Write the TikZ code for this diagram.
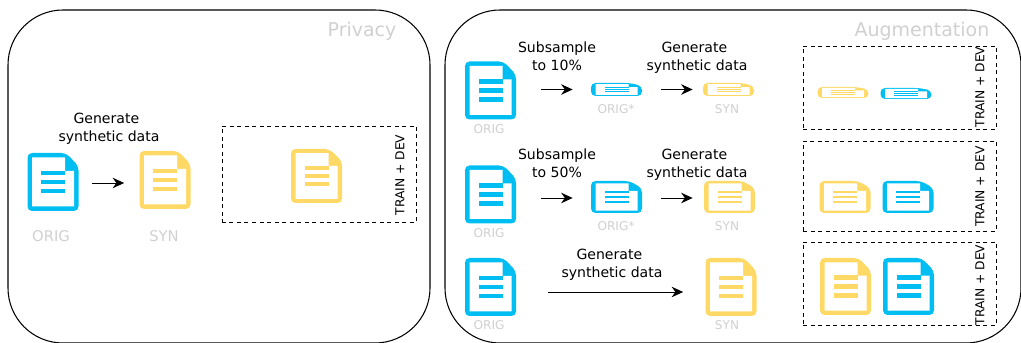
\documentclass[tikz,border=0pt]{standalone}
\usepackage{fontspec}
\setmainfont{DejaVu Sans}
\usetikzlibrary{arrows.meta}
\definecolor{origblue}{HTML}{00BEF2}
\definecolor{synyellow}{HTML}{FFD966}
\definecolor{labelgray}{HTML}{D0D0D0}
\tikzset{
  panel/.style={draw,line width=0.6pt,rounded corners=11mm},
  setbox/.style={draw,line width=0.5pt,dash pattern=on 0.8mm off 0.7mm},
  flowarrow/.style={-{Stealth[length=2.3mm,width=2.1mm]},line width=0.55pt},
  steptext/.style={inner sep=0,align=center,font=\fontsize{8}{10.4}\selectfont},
  doclabel/.style={inner sep=0,text=labelgray,font=\fontsize{8.4}{10}\selectfont},
  smalllabel/.style={inner sep=0,text=labelgray,font=\fontsize{6.9}{8}\selectfont},
  paneltitle/.style={inner sep=0,text=labelgray,font=\fontsize{10.8}{13}\selectfont},
  settext/.style={inner sep=0,rotate=90,font=\fontsize{7}{8}\selectfont}
}
% name, centre x, centre y, height, colour
\newcommand{\docicon}[5]{
\node[inner sep=0,minimum width=10.2mm,minimum height=#4*0.2mm] (#1) at (#2,#3) {};
\begin{scope}[shift={(#2,#3)},yscale=#4/58]
\fill[#5,rounded corners=0.9mm] (-25.5,-29) -- (13,-29) -- (25.5,-16) -- (25.5,29) -- (-25.5,29) -- cycle;
\fill[white] (-21,-24.5) -- (-21,24.5) -- (21,24.5) -- (21,-11) -- (12,-11) -- (12,-24.5) -- cycle;
\fill[#5] (-12,-11.2) rectangle (12,-6.8);
\fill[#5] (-12,-2.2) rectangle (12,2.2);
\fill[#5] (-12,6.8) rectangle (12,11.2);
\end{scope}
}
\begin{document}
\begin{tikzpicture}[x=0.2mm,y=-0.2mm]
\useasboundingbox (0,0) rectangle (1021,343);
% privacy
\node[panel,minimum width=84.4mm,minimum height=66.6mm,inner sep=0] (privacy) at (219,176.5) {};
\node[paneltitle] (privacytitle) at (362,31) {Privacy};
\docicon{orig}{53}{182}{58}{origblue}
\docicon{syn}{165}{180}{58}{synyellow}
\node[steptext] (gen) at (109,129) {Generate\hspace*{3pt}\\synthetic data};
\node[doclabel] (origlabel) at (51,236) {ORIG};
\node[doclabel] (synlabel) at (164,236) {SYN};
\draw[flowarrow,shorten <=2.6mm,shorten >=3mm] ([yshift=-0.2mm]orig.east) -- ([yshift=-0.2mm]orig.east -| syn.west);
\node[setbox,minimum width=38.8mm,minimum height=19.2mm,inner sep=0] (trainbox) at (319,174) {};
\docicon{train}{316.5}{176}{54}{synyellow}
\node[settext] (traintext) at (400,175) {TRAIN + DEV};
% augmentation
\node[panel,minimum width=115.2mm,minimum height=66.6mm,inner sep=0] (augment) at (733,176.5) {};
\node[paneltitle] (augmenttitle) at (922,31) {Augmentation};
% 10 percent
\docicon{origa}{490.5}{90.5}{58}{origblue}
\docicon{suba}{616.5}{89.5}{13}{origblue}
\docicon{syna}{728.5}{89.5}{13}{synyellow}
\node[steptext] (subatext) at (557,56) {Subsample\\to 10\%};
\node[steptext] (gena) at (697,58) {Generate\hspace*{3pt}\\synthetic data};
\node[smalllabel] (origalabel) at (489,129) {ORIG};
\node[smalllabel] (subalabel) at (616,109) {ORIG*};
\node[smalllabel] (synalabel) at (727,109) {SYN};
\draw[flowarrow,shorten <=5mm,shorten >=3.6mm] (origa.east |- suba.west) -- (suba.west);
\draw[flowarrow,shorten <=3.8mm,shorten >=2mm] (suba.east) -- (syna.west);
\node[setbox,minimum width=38.6mm,minimum height=16.6mm,inner sep=0] (boxa) at (899.5,87.5) {};
\docicon{boxasyn}{843}{92.5}{11}{synyellow}
\docicon{boxaorig}{906}{93.5}{11}{origblue}
\node[settext] (boxatext) at (980,87) {TRAIN + DEV};
% 50 percent
\docicon{origb}{490.5}{194.5}{58}{origblue}
\docicon{subb}{616.5}{197}{32}{origblue}
\docicon{synb}{729.5}{197}{32}{synyellow}
\node[steptext] (subbtext) at (557,163) {Subsample\\to 50\%};
\node[steptext] (genb) at (697,165) {Generate\hspace*{3pt}\\synthetic data};
\node[smalllabel] (origblabel) at (489,233) {ORIG};
\node[smalllabel] (subblabel) at (616,226) {ORIG*};
\node[smalllabel] (synblabel) at (727,226) {SYN};
\draw[flowarrow,shorten <=5mm,shorten >=3.6mm] ([yshift=-0.2mm]origb.east |- subb.west) -- ([yshift=-0.2mm]subb.west);
\draw[flowarrow,shorten <=3.8mm,shorten >=2.2mm] ([yshift=-0.2mm]subb.east) -- ([yshift=-0.2mm]synb.west);
\node[setbox,minimum width=38.6mm,minimum height=18mm,inner sep=0] (boxb) at (899.5,186) {};
\docicon{boxbsyn}{845}{197}{32}{synyellow}
\docicon{boxborig}{908}{197}{32}{origblue}
\node[settext] (boxbtext) at (980,186.5) {TRAIN + DEV};
% all
\docicon{origc}{490.5}{287}{58}{origblue}
\docicon{sync}{731}{287}{58}{synyellow}
\node[steptext] (genc) at (612,265) {Generate\hspace*{3pt}\\synthetic data};
\node[smalllabel] (origclabel) at (489,325) {ORIG};
\node[smalllabel] (synclabel) at (727,325) {SYN};
\draw[flowarrow,shorten <=6.4mm,shorten >=4.4mm] ([yshift=-1mm]origc.east) -- ([yshift=-1mm]sync.west);
\node[setbox,minimum width=38.6mm,minimum height=16.6mm,inner sep=0] (boxc) at (899.5,283.5) {};
\docicon{boxcsyn}{845.5}{286.5}{57}{synyellow}
\docicon{boxcorig}{908.5}{286.5}{57}{origblue}
\node[settext] (boxctext) at (980,285) {TRAIN + DEV};
\end{tikzpicture}
\end{document}
